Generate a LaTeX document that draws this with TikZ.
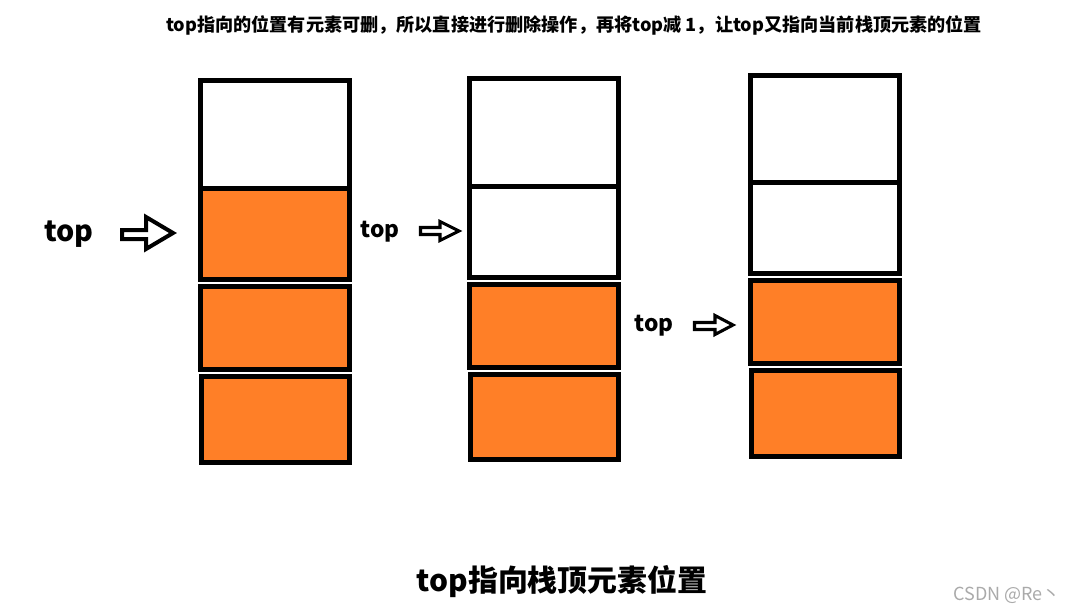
\documentclass[tikz,border=0pt]{standalone}
\usepackage{fontspec}
\setmainfont{Noto Sans CJK SC}
\definecolor{paintorange}{RGB}{255,127,39}
\definecolor{wmgray}{RGB}{170,170,170}
\begin{document}
\begin{tikzpicture}[x=0.75pt,y=-0.75pt,
  cellw/.style={draw=black,line width=3.75pt,fill=white},
  cello/.style={draw=black,line width=3.75pt,fill=paintorange},
  blockarrow/.style={draw=black,line join=miter,fill=white},
  toplabel/.style={font=\bfseries,inner sep=0pt,anchor=center}]
\useasboundingbox[fill=white] (0,0) rectangle (1077,613);

% title
\node[toplabel,font=\bfseries\fontsize{13.6pt}{16pt}\selectfont] (title) at (574,25)
  {top指向的位置有元素可删，所以直接进行删除操作，再将top减 1，让top又指向当前栈顶元素的位置};

% stack 1
\draw[cellw] (200.5,80.5) rectangle (349.5,188.5);
\draw[cello] (200.5,188.5) rectangle (349.5,279.5);
\draw[cello] (200.5,286.5) rectangle (349.5,369.5);
\draw[cello] (201.5,376.5) rectangle (349.5,462.5);

% stack 2
\draw[cellw] (469.5,78.5) rectangle (618.5,186.5);
\draw[cellw] (469.5,186.5) rectangle (618.5,277.5);
\draw[cello] (469.5,284.5) rectangle (618.5,367.5);
\draw[cello] (470.5,374.5) rectangle (618.5,459.5);

% stack 3
\draw[cellw] (750.5,75.5) rectangle (899.5,182.5);
\draw[cellw] (750.5,182.5) rectangle (899.5,273.5);
\draw[cello] (750.5,280.5) rectangle (899.5,363.5);
\draw[cello] (751.5,370.5) rectangle (899.5,456.5);

% top labels
\node[toplabel,font=\bfseries\fontsize{21.5pt}{26pt}\selectfont] (top1) at (69,234) {top};
\node[toplabel,font=\bfseries\fontsize{17pt}{20pt}\selectfont] (top2) at (380,232) {top};
\node[toplabel,font=\bfseries\fontsize{17pt}{20pt}\selectfont] (top3) at (654,326) {top};

% block arrows
\draw[blockarrow,line width=3pt] (122,230) -- (146,230) -- (146,217) -- (173,233)
  -- (146,249) -- (146,239) -- (122,239) -- cycle;
\draw[blockarrow,line width=2.3pt] (420.5,227.5) -- (440,227.5) -- (440,221.5) -- (459,231)
  -- (440,240.5) -- (440,234.5) -- (420.5,234.5) -- cycle;
\draw[blockarrow,line width=2.3pt] (694.5,322.5) -- (715,322.5) -- (715,315.5) -- (733,325)
  -- (715,334.5) -- (715,329.5) -- (694.5,329.5) -- cycle;

% bottom caption
\node[toplabel,font=\bfseries\fontsize{22.4pt}{27pt}\selectfont] (caption) at (562,582) {top指向栈顶元素位置};

% watermark
\node[inner sep=0pt,anchor=west,text=wmgray,font=\fontsize{13.5pt}{16pt}\selectfont] (wm) at (953,595) {CSDN @Re丶};
\end{tikzpicture}
\end{document}
